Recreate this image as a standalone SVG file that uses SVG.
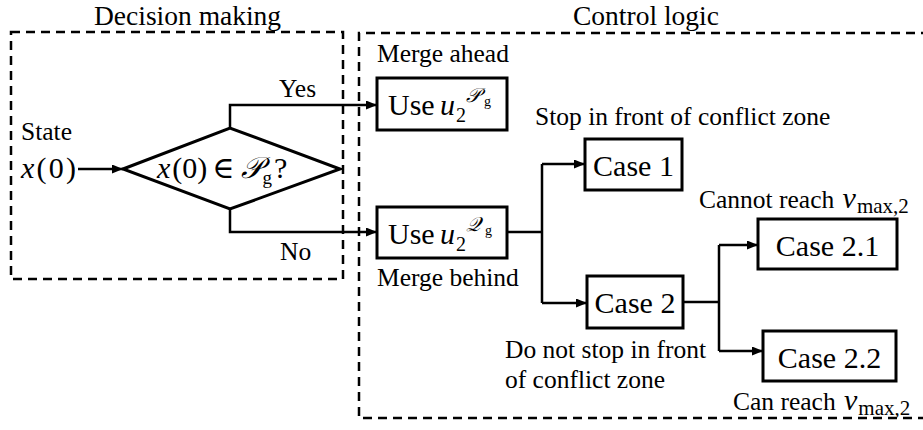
<svg xmlns="http://www.w3.org/2000/svg" width="923" height="430" viewBox="0 0 923 430" font-family="'Liberation Serif', 'Times New Roman', Times, 'DejaVu Serif', serif">
  <style>
    text, tspan { font-family: 'Liberation Serif', 'Times New Roman', Times, 'DejaVu Serif', serif; fill: #000; }
    .title { font-size: 27.5px; }
    .lbl { font-size: 25.5px; }
    .box { fill: #fff; stroke: #000; stroke-width: 3; }
    .btxt { font-size: 30px; text-anchor: middle; }
    .math { font-style: italic; }
    .frame { fill: none; stroke: #000; stroke-width: 2.5; stroke-dasharray: 9 6; }
    .wire { fill: none; stroke: #000; stroke-width: 2.5; }
  </style>
  <defs>
    <marker id="arrow" markerUnits="userSpaceOnUse" markerWidth="12" markerHeight="10" refX="11" refY="4.5" orient="auto">
      <path d="M0,0 L11,4.5 L0,9 z" fill="#000"/>
    </marker>
  </defs>

  <rect width="923" height="430" fill="#fff"/>

  <!-- dashed frames -->
  <g id="decision-frame">
    <text class="title" x="94" y="25">Decision making</text>
    <rect class="frame" x="11" y="32" width="332" height="247"/>
  </g>
  <g id="control-frame">
    <text class="title" x="573" y="25">Control logic</text>
    <path class="frame" d="M930,33 H359 V418 H930"/>
  </g>

  <!-- connectors -->
  <g id="connectors">
    <path class="wire" d="M78,169 H123" marker-end="url(#arrow)"/>
    <path class="wire" d="M230,128 V105 H377" marker-end="url(#arrow)"/>
    <path class="wire" d="M230,209 V232 H377" marker-end="url(#arrow)"/>
    <path class="wire" d="M507,232 H542 M542,164 V303"/>
    <path class="wire" d="M542,164 H585" marker-end="url(#arrow)"/>
    <path class="wire" d="M542,303 H587" marker-end="url(#arrow)"/>
    <path class="wire" d="M683,302 H719 M719,245 V351"/>
    <path class="wire" d="M719,245 H758" marker-end="url(#arrow)"/>
    <path class="wire" d="M719,351 H763" marker-end="url(#arrow)"/>
    <text class="lbl" x="279" y="97">Yes</text>
    <text class="lbl" x="280" y="260">No</text>
  </g>

  <!-- input state -->
  <g id="state">
    <text class="lbl" x="21" y="140">State</text>
    <text x="21" y="178" font-size="30" textLength="55" lengthAdjust="spacing"><tspan class="math">x</tspan>(0)</text>
  </g>

  <!-- decision diamond -->
  <g id="decision">
    <polygon points="123,169 230,128 340,169 230,209" fill="#fff" stroke="#000" stroke-width="3"/>
    <text x="157" y="178" font-size="30"><tspan class="math">x</tspan><tspan dx="2">(0)</tspan><tspan dx="5">∈</tspan><tspan class="math" dx="6">𝒫</tspan><tspan font-size="19" dy="6">g</tspan><tspan dy="-6" dx="2">?</tspan></text>
  </g>

  <!-- merge ahead -->
  <g id="use-p">
    <text class="lbl" x="377" y="62">Merge ahead</text>
    <rect class="box" x="377" y="78" width="130" height="52"/>
    <text x="388" y="115" font-size="30">Use</text>
    <text class="math" x="440" y="115" font-size="30">u</text>
    <text x="456" y="122" font-size="20">2</text>
    <text class="math" x="466" y="102" font-size="20">𝒫</text>
    <text x="484" y="106" font-size="14">g</text>
  </g>

  <!-- merge behind -->
  <g id="use-q">
    <rect class="box" x="377" y="207" width="130" height="51"/>
    <text x="388" y="244" font-size="30">Use</text>
    <text class="math" x="440" y="244" font-size="30">u</text>
    <text x="456" y="251" font-size="20">2</text>
    <text class="math" x="466" y="231" font-size="20">𝒬</text>
    <text x="485" y="235" font-size="14">g</text>
    <text class="lbl" x="377" y="286">Merge behind</text>
  </g>

  <!-- case 1 -->
  <g id="case1">
    <text class="lbl" x="535" y="125">Stop in front of conflict zone</text>
    <rect class="box" x="585" y="139" width="97" height="51"/>
    <text class="btxt" x="633.5" y="176">Case 1</text>
  </g>

  <!-- case 2 -->
  <g id="case2">
    <rect class="box" x="587" y="276" width="96" height="52"/>
    <text class="btxt" x="635" y="313">Case 2</text>
    <text class="lbl" x="505" y="358">Do not stop in front</text>
    <text class="lbl" x="505" y="388">of conflict zone</text>
  </g>

  <!-- case 2.1 -->
  <g id="case21">
    <text class="lbl" x="699" y="208">Cannot reach <tspan class="math" font-size="30" dx="2">v</tspan><tspan font-size="21" dy="5" dx="1">max,2</tspan></text>
    <rect class="box" x="758" y="219" width="139" height="50"/>
    <text class="btxt" x="827.5" y="256">Case 2.1</text>
  </g>

  <!-- case 2.2 -->
  <g id="case22">
    <rect class="box" x="763" y="331" width="133" height="50"/>
    <text class="btxt" x="829.5" y="368">Case 2.2</text>
    <text class="lbl" x="733" y="410">Can reach <tspan class="math" font-size="30" dx="2">v</tspan><tspan font-size="21" dy="5" dx="1">max,2</tspan></text>
  </g>
</svg>
